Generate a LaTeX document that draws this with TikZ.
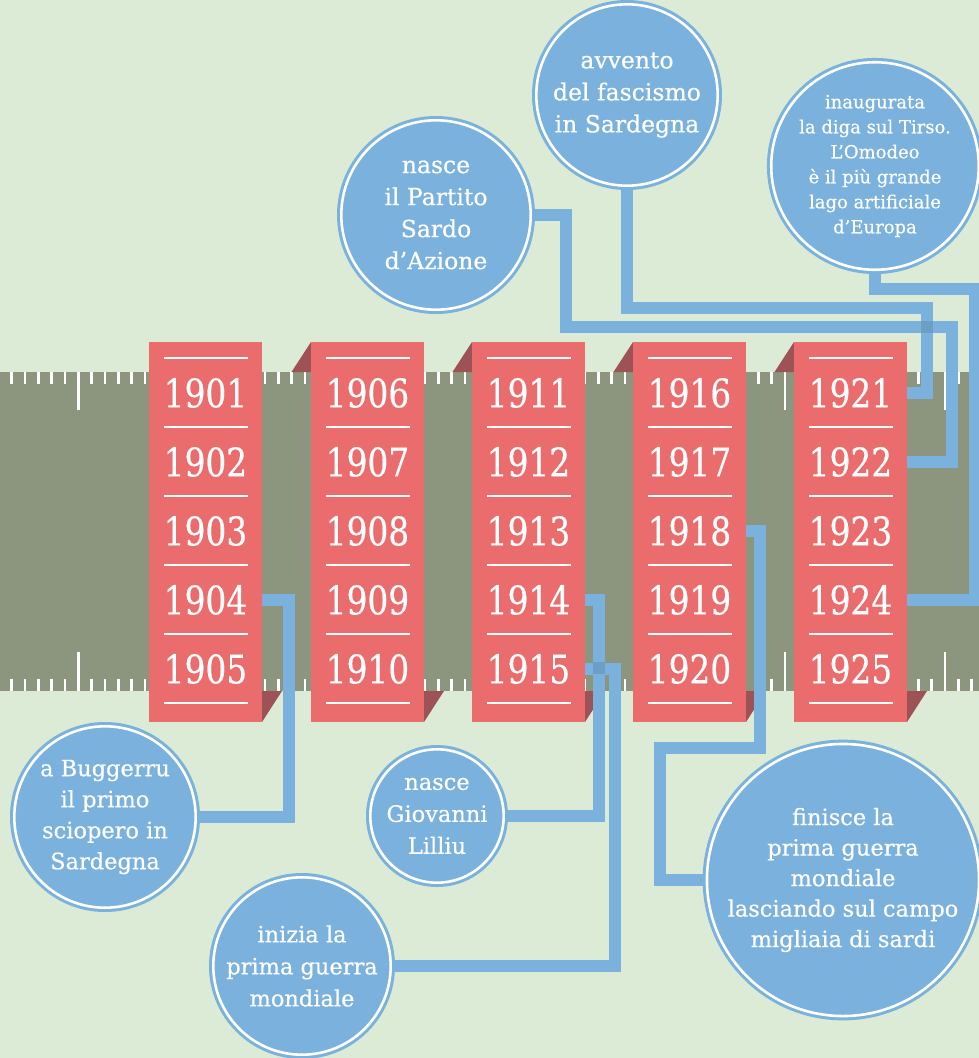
\documentclass[tikz,border=0pt]{standalone}
\usepackage{fontspec}
\setmainfont{DejaVu Serif}[FakeBold=0.5]
\newfontfamily\yearfont[FakeStretch=0.83,FakeBold=0.4]{DejaVu Serif}
\definecolor{bgc}{HTML}{DCEBD5}
\definecolor{bandc}{HTML}{8C957E}
\definecolor{redc}{HTML}{EB6C6D}
\definecolor{foldc}{HTML}{9D5256}
\definecolor{cblue}{HTML}{7AB1DD}
\definecolor{xblue}{HTML}{6C9FC5}
\begin{document}
\begin{tikzpicture}[x=1pt,y=-1pt,
  tick/.style={white,line width=2.6pt},
  yearbox/.style={fill=redc,draw=none,rectangle,minimum width=113pt,minimum height=380pt,inner sep=0pt,outer sep=0pt,anchor=north west},
  fold/.style={fill=foldc},
  wline/.style={white,line width=2.6pt},
  yr/.style={text=white,font=\fontsize{39.5}{39.5}\yearfont,inner sep=0pt},
  circ/.style={circle,fill=cblue,draw=cblue,double=white,line width=3pt,double distance=2.6pt,inner sep=0pt,outer sep=4.3pt,text=white,align=center},
  conn/.style={cblue,line width=12pt,line join=miter}]
\useasboundingbox (0,0) rectangle (979,1058);
\fill[bgc] (0,0) rectangle (979,1058);
\fill[bandc] (0,372) rectangle (979,691);
% ruler ticks
\foreach \k in {0,...,72}{
  \pgfmathsetmacro\xx{11.67+13.333*\k}
  \draw[tick] (\xx,372) -- (\xx,384);
  \draw[tick] (\xx,691) -- (\xx,679);
}
\foreach \k in {5,58,70}{
  \pgfmathsetmacro\xx{11.67+13.333*\k}
  \draw[tick] (\xx,372) -- (\xx,410);
  \draw[tick] (\xx,691) -- (\xx,652);
}
% year boxes
\foreach \i/\x in {1/149,2/311,3/472,4/633,5/794}{
  \ifnum\i>1
    \fill[fold] (\x-19.5,372) -- (\x,342) -- (\x,372) -- cycle;
  \fi
  \fill[fold] (\x+113,691) -- (\x+133,691) -- (\x+113,722) -- cycle;
  \node[yearbox] (b\i) at (\x,342) {};
  \foreach \j in {0,...,5}{
    \draw[wline] (\x+15,358+69*\j) -- (\x+99,358+69*\j);
  }
  \foreach \r in {0,...,4}{
    \pgfmathtruncatemacro\yy{1900+5*(\i-1)+\r+1}
    \node[yr] (y\yy) at (\x+56.5,393+69*\r) {\yy};
  }
}
% circles
\node[circ,minimum size=181.4pt,font=\fontsize{23.5}{32}\selectfont] (c1) at (627,95) {avvento\\del fascismo\\in Sardegna};
\node[circ,minimum size=189.4pt,font=\fontsize{23.5}{32}\selectfont] (c2) at (436,215) {nasce\\il Partito\\Sardo\\d’Azione};
\node[circ,minimum size=192.4pt,font=\fontsize{18}{25}\selectfont] (c3) at (875,166) {inaugurata\\la diga sul Tirso.\\L’Omodeo\\è il più grande\\lago artificiale\\d’Europa};
\node[circ,minimum size=181.4pt,font=\fontsize{22.5}{31}\selectfont] (c4) at (105,817) {a Buggerru\\il primo\\sciopero in\\Sardegna};
\node[circ,minimum size=133.4pt,font=\fontsize{22.5}{32}\selectfont] (c5) at (437,816) {nasce\\Giovanni\\Lilliu};
\node[circ,minimum size=177.4pt,font=\fontsize{22.5}{32}\selectfont] (c6) at (302,966) {inizia la\\prima guerra\\mondiale};
\node[circ,minimum size=263.4pt,font=\fontsize{22.5}{30.5}\selectfont] (c7) at (843,880) {finisce la\\prima guerra\\mondiale\\lasciando sul campo\\migliaia di sardi};
% bend points
\coordinate (k1) at (927,308);
\coordinate (k2) at (566,327);
\coordinate (k3) at (951.5,327);
\coordinate (k4) at (974.5,289);
\coordinate (k5) at (760,748);
\coordinate (k6) at (660,748);
% connectors
\draw[conn] (b1.east |- y1904) -- ++(27,0) |- (c4.east);
\draw[conn] (b3.east |- y1914) -- ++(14,0) |- (c5.east);
\draw[conn] (b3.east |- y1915) -- ++(29.5,0) |- (c6.east);
\draw[conn] (b4.east |- y1918) -| (k5) -- (k6) |- (c7.west);
\draw[conn] (c1.south) |- (k1) |- (b5.east |- y1921);
\draw[conn] (c2.east) -| (k2) -- (k3) |- (b5.east |- y1922);
\draw[conn] (c3.south) |- (k4) |- (b5.east |- y1924);
% crossings
\fill[xblue] (593,662) rectangle (605,674);
\fill[xblue] (921,321) rectangle (933,333);
\end{tikzpicture}
\end{document}
